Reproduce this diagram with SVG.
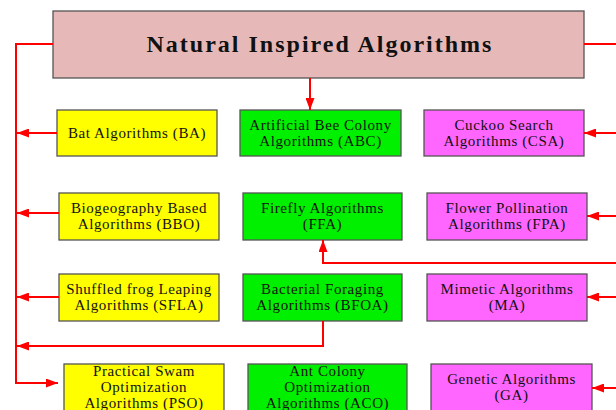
<svg xmlns="http://www.w3.org/2000/svg" width="616" height="410" viewBox="0 0 616 410">
<style>
.box{stroke:#555;stroke-width:1.3}
.y{fill:#ffff00}
.g{fill:#00f000}
.m{fill:#ff66ff}
text{font-family:"Liberation Serif","Times New Roman",serif;font-size:15px;fill:#111;text-anchor:middle;letter-spacing:0.6px}
.title{font-size:24px;font-weight:bold;letter-spacing:2px}
.c{fill:none;stroke:#ff0000;stroke-width:2}
</style>
<defs>
<marker id="ah" markerUnits="userSpaceOnUse" markerWidth="12" markerHeight="9" refX="12" refY="4.5" orient="auto">
<path d="M0,0 L12,4.5 L0,9 z" fill="#ff0000"/>
</marker>
</defs>
<g id="n-title"><rect class="box" x="53" y="11" width="531" height="67" fill="#e6b9b8"/><text class="title" x="320" y="52">Natural Inspired Algorithms</text></g>
<g id="n-ba"><rect class="box y" x="57" y="110" width="160" height="46"/><text x="137" y="138">Bat Algorithms (BA)</text></g>
<g id="n-abc"><rect class="box g" x="240" y="110" width="161" height="46"/><text x="320.5" y="130">Artificial Bee Colony</text><text x="320.5" y="146">Algorithms (ABC)</text></g>
<g id="n-csa"><rect class="box m" x="424" y="110" width="160" height="46"/><text x="504" y="130">Cuckoo Search</text><text x="504" y="146">Algorithms (CSA)</text></g>
<g id="n-bbo"><rect class="box y" x="59" y="193" width="160" height="47"/><text x="139" y="213">Biogeography Based</text><text x="139" y="229">Algorithms (BBO)</text></g>
<g id="n-ffa"><rect class="box g" x="243" y="193" width="159" height="47"/><text x="322.5" y="213">Firefly Algorithms</text><text x="322.5" y="229">(FFA)</text></g>
<g id="n-fpa"><rect class="box m" x="427" y="193" width="160" height="47"/><text x="507" y="213">Flower Pollination</text><text x="507" y="229">Algorithms (FPA)</text></g>
<g id="n-sfla"><rect class="box y" x="59" y="274" width="160" height="47"/><text x="139" y="294">Shuffled frog Leaping</text><text x="139" y="310">Algorithms (SFLA)</text></g>
<g id="n-bfoa"><rect class="box g" x="243" y="274" width="159" height="47"/><text x="322.5" y="294">Bacterial Foraging</text><text x="322.5" y="310">Algorithms (BFOA)</text></g>
<g id="n-ma"><rect class="box m" x="427" y="274" width="160" height="47"/><text x="507" y="294">Mimetic Algorithms</text><text x="507" y="310">(MA)</text></g>
<g id="n-pso"><rect class="box y" x="64" y="364" width="160" height="60"/><text x="144" y="376">Practical Swam</text><text x="144" y="392">Optimization</text><text x="144" y="408">Algorithms (PSO)</text></g>
<g id="n-aco"><rect class="box g" x="248" y="364" width="159" height="60"/><text x="327.5" y="376">Ant Colony</text><text x="327.5" y="392">Optimization</text><text x="327.5" y="408">Algorithms (ACO)</text></g>
<g id="n-ga"><rect class="box m" x="431" y="364" width="161" height="60"/><text x="511.5" y="384">Genetic Algorithms</text><text x="511.5" y="400">(GA)</text></g>
<g id="connectors">
<path class="c" d="M310,78 V110" marker-end="url(#ah)"/>
<path class="c" d="M53,44 H16 V383 H58" marker-end="url(#ah)"/>
<path class="c" d="M57,133 H17" marker-end="url(#ah)"/>
<path class="c" d="M59,213 H17" marker-end="url(#ah)"/>
<path class="c" d="M59,297 H17" marker-end="url(#ah)"/>
<path class="c" d="M323,321 V346 H17" marker-end="url(#ah)"/>
<path class="c" d="M584,44 H616"/>
<path class="c" d="M616,133 H584" marker-end="url(#ah)"/>
<path class="c" d="M616,216 H587" marker-end="url(#ah)"/>
<path class="c" d="M616,263 H323 V240" marker-end="url(#ah)"/>
<path class="c" d="M616,297 H587" marker-end="url(#ah)"/>
<path class="c" d="M616,388 H592" marker-end="url(#ah)"/>
</g>
</svg>
